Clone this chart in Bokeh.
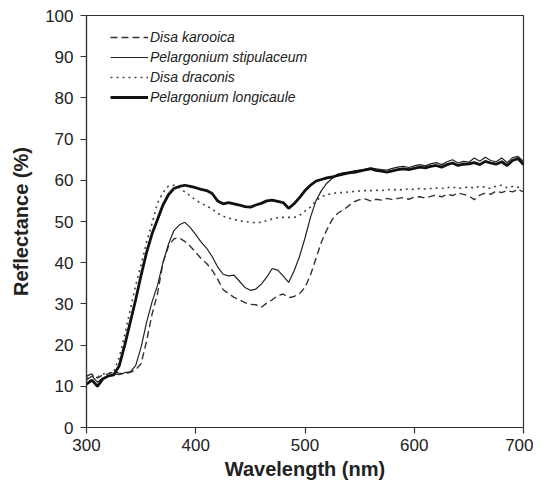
from bokeh.plotting import figure
from bokeh.models import Legend, LegendItem, Range1d, FixedTicker
from bokeh.embed import file_html
from bokeh.resources import INLINE

wavelength = list(range(300, 705, 5))

disa_karooica = [12.5, 13.0, 12.0, 12.8, 13.0, 13.5, 13.2, 13.0, 13.4, 14.0,
                 15.5, 21.0, 27.5, 32.5, 40.0, 44.0, 45.8, 46.0, 45.2, 44.0,
                 42.5, 41.0, 39.8, 38.2, 36.0, 33.5, 32.5, 31.6, 31.0, 30.3,
                 29.9, 29.8, 29.2, 30.2, 31.0, 32.0, 32.4, 31.5, 31.8, 32.5,
                 34.0, 37.0, 41.0, 45.0, 48.0, 50.5, 52.0, 52.8, 53.8, 54.8,
                 55.3, 55.5, 55.0, 55.4, 55.2, 55.6, 55.3, 55.6, 55.8, 55.4,
                 55.9, 56.0, 55.7, 56.1, 56.4, 56.0, 56.6, 56.3, 56.9, 56.6,
                 56.2, 55.3, 56.4, 56.9, 56.6, 57.4, 57.0, 57.5, 57.2, 57.8,
                 57.2]

pel_stipulaceum = [11.5, 12.5, 11.0, 12.0, 12.5, 13.0, 12.8, 13.3, 13.5, 15.0,
                   19.5, 25.5, 30.5, 34.5, 40.0, 44.5, 47.8, 49.2, 49.8, 48.5,
                   46.8, 45.0, 43.5, 41.5, 39.0, 37.2, 36.8, 37.0, 35.5, 34.0,
                   33.3, 33.6, 34.8, 36.5, 38.6, 38.2, 36.8, 35.2, 38.0, 41.5,
                   46.0, 51.0, 55.0, 57.5, 59.3, 60.5, 61.5, 61.8, 62.0, 62.3,
                   62.5, 62.7, 63.0, 62.8, 62.6, 62.5, 62.9, 63.2, 63.4, 63.1,
                   63.5, 63.8, 63.5, 64.0, 64.3, 63.8, 64.5, 65.0, 64.2, 64.6,
                   64.4, 65.4, 64.6, 65.6, 64.8, 64.5, 65.4, 64.3, 65.5, 65.8,
                   64.6]

disa_draconis = [12.0, 12.6, 12.2, 13.0, 13.2, 13.6, 17.0, 22.5, 28.5, 34.5,
                 39.5, 45.0, 49.5, 54.5, 57.0, 58.6, 58.8, 58.2, 57.2, 56.2,
                 55.2, 54.4, 53.8, 53.0, 52.0, 51.3, 50.8, 50.5, 50.2, 50.0,
                 49.8, 49.7, 49.8, 50.2, 50.6, 50.9, 51.0, 51.0, 51.0, 51.5,
                 52.5, 53.5, 55.0, 56.0, 56.5, 56.8, 57.0, 57.0, 57.2, 57.3,
                 57.4, 57.5, 57.5, 57.6, 57.5, 57.7, 57.8, 57.6, 57.8, 57.9,
                 57.8, 58.0, 57.9, 58.0, 58.1, 58.0, 58.2, 58.4, 58.0, 58.2,
                 58.4, 58.1, 58.6, 58.3, 58.0, 58.6, 58.8, 58.2, 58.5, 58.3,
                 58.0]

pel_longicaule = [10.5, 11.5, 10.0, 11.8, 12.5, 12.8, 15.0, 20.0, 25.5, 31.0,
                  37.0, 42.5, 47.0, 50.5, 54.0, 56.5, 58.0, 58.5, 58.8, 58.5,
                  58.2, 57.8, 57.5, 56.8, 55.0, 54.3, 54.6, 54.3, 54.0, 53.6,
                  53.5, 54.0, 54.4, 55.0, 55.2, 54.9, 54.6, 53.2, 54.3, 55.8,
                  57.5, 58.8, 59.8, 60.2, 60.6, 60.8, 61.2, 61.5, 61.8, 61.9,
                  62.2, 62.5, 62.8, 62.4, 62.2, 62.0, 62.3, 62.6, 62.8, 62.6,
                  62.9, 63.2, 63.0, 63.4, 63.6, 63.2, 63.8, 64.2, 63.6, 63.9,
                  64.0, 64.3, 63.8, 64.6, 64.2, 63.9, 64.5, 63.6, 64.8, 65.3,
                  63.8]

series_names = ["Disa karooica", "Pelargonium stipulaceum", "Disa draconis", "Pelargonium longicaule"]
x_ticks = [300, 400, 500, 600, 700]
y_ticks = [0, 10, 20, 30, 40, 50, 60, 70, 80, 90, 100]

FONT = "Liberation Sans"

p = figure(width=533, height=488, output_backend="svg", toolbar_location=None,
           x_range=Range1d(300, 700), y_range=Range1d(0, 100),
           min_border_left=86, min_border_right=10, min_border_top=15, min_border_bottom=61)
p.grid.visible = False
p.outline_line_color = "#333333"
p.outline_line_width = 1.2
p.background_fill_color = "white"
p.border_fill_color = "white"

r1 = p.line(wavelength, disa_karooica, line_color="#333333", line_width=1.4, line_dash="7 4")
r2 = p.line(wavelength, pel_stipulaceum, line_color="#222222", line_width=1.2)
r3 = p.line(wavelength, disa_draconis, line_color="#444444", line_width=1.6, line_dash="2 4")
r4 = p.line(wavelength, pel_longicaule, line_color="#111111", line_width=2.8)

for ax in (p.xaxis, p.yaxis):
    ax.axis_line_color = "#333333"
    ax.axis_line_width = 1.2
    ax.major_tick_line_color = "#333333"
    ax.major_tick_line_width = 1.2
    ax.major_tick_out = 6
    ax.major_tick_in = 0
    ax.minor_tick_line_color = None
    ax.major_label_text_font = FONT
    ax.major_label_text_font_size = "17px"
    ax.major_label_text_color = "#222222"
    ax.axis_label_text_font = FONT
    ax.axis_label_text_font_size = "20px"
    ax.axis_label_text_font_style = "bold"
    ax.axis_label_text_color = "#222222"

p.xaxis.ticker = FixedTicker(ticks=x_ticks)
p.yaxis.ticker = FixedTicker(ticks=y_ticks)
p.xaxis.axis_label = "Wavelength (nm)"
p.yaxis.axis_label = "Reflectance (%)"
p.xaxis.major_label_standoff = 5
p.yaxis.major_label_standoff = 7
p.xaxis.axis_label_standoff = 4
p.yaxis.axis_label_standoff = 10

legend = Legend(items=[LegendItem(label=n, renderers=[r]) for n, r in zip(series_names, [r1, r2, r3, r4])],
                location=(24, 320), margin=0, padding=0, spacing=0,
                glyph_width=38, glyph_height=20, label_height=20, label_standoff=2,
                label_text_font=FONT, label_text_font_size="14px", label_text_font_style="italic",
                label_text_color="#222222",
                border_line_color=None, background_fill_alpha=0)
p.add_layout(legend)

open("out.html", "w").write(file_html(p, INLINE))
